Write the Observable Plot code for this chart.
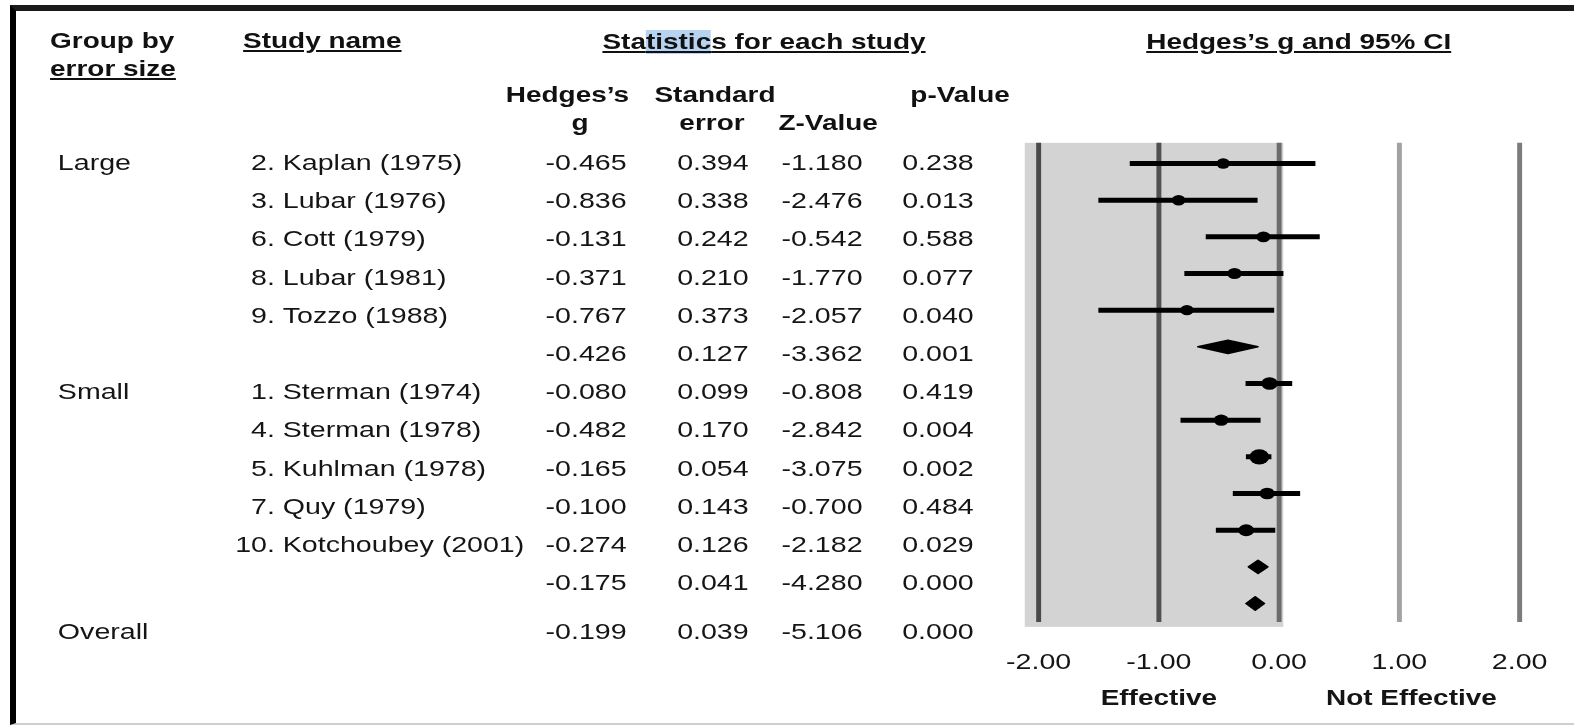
<!DOCTYPE html>
<html>
<head>
<meta charset="utf-8">
<script src="https://cdn.jsdelivr.net/npm/d3@7"></script>
<script src="https://cdn.jsdelivr.net/npm/@observablehq/plot@0.6"></script>
<style>
html,body{margin:0;padding:0;background:#fff;}
body{width:1574px;height:728px;overflow:hidden;position:relative;font-family:"Liberation Sans",Arial,sans-serif;}
#frame{position:absolute;left:10px;top:5px;width:1600px;height:712px;border-left:6px solid #000;border-top:6px solid #1a1a1a;border-bottom:2px solid #cfcfcf;}
#stage{position:absolute;left:0;top:0;height:728px;transform-origin:0 0;filter:blur(0.45px);}
#stage svg{position:absolute;left:0;top:0;display:block;}
#stage svg text{white-space:pre;}
.hd{position:absolute;font-weight:bold;font-size:21.5px;line-height:22px;color:#111;white-space:nowrap;}
.hd.u{text-decoration:underline;text-decoration-thickness:2px;text-underline-offset:2px;}
.hd.c{transform:translateX(-50%);}
.hd .sel{background:#b7d3f2;}
</style>
</head>
<body>
<div id="frame"></div>
<div id="stage"></div>
<script>
// ---------------- data ----------------
const groupLabels = ["Large", "", "", "", "", "", "Small", "", "", "", "", "", "Overall"];
const studyNames = ["2. Kaplan (1975)", "3. Lubar (1976)", "6. Cott (1979)", "8. Lubar (1981)", "9. Tozzo (1988)", "",
  "1. Sterman (1974)", "4. Sterman (1978)", "5. Kuhlman (1978)", "7. Quy (1979)", "10. Kotchoubey (2001)", "", ""];
const rowTypes = ["study", "study", "study", "study", "study", "subtotal",
  "study", "study", "study", "study", "study", "subtotal", "overall"];
const hedgesG = [-0.465, -0.836, -0.131, -0.371, -0.767, -0.426, -0.080, -0.482, -0.165, -0.100, -0.274, -0.175, -0.199];
const stdErr  = [0.394, 0.338, 0.242, 0.210, 0.373, 0.127, 0.099, 0.170, 0.054, 0.143, 0.126, 0.041, 0.039];
const zValue  = [-1.180, -2.476, -0.542, -1.770, -2.057, -3.362, -0.808, -2.842, -3.075, -0.700, -2.182, -4.280, -5.106];
const pValue  = [0.238, 0.013, 0.588, 0.077, 0.040, 0.001, 0.419, 0.004, 0.002, 0.484, 0.029, 0.000, 0.000];
const ciLower = [-1.237, -1.498, -0.605, -0.783, -1.498, -0.675, -0.274, -0.815, -0.271, -0.380, -0.521, -0.255, -0.275];
const ciUpper = [0.307, -0.174, 0.343, 0.041, -0.036, -0.177, 0.114, -0.149, -0.059, 0.180, -0.027, -0.095, -0.123];
const axisTicks = [-2, -1, 0, 1, 2];
const sideLabels = ["Effective", "Not Effective"];

// ---------------- layout ----------------
const SX = 1.3;                    // horizontal stretch of the original picture
const W0 = 1574 / SX;
const FONT = "Liberation Sans, Arial, sans-serif";
const INK = "#151515";
const COL = {group: 44, studyNumEnd: 211, studyName: 217, g: 481.5, se: 575.4, z: 663, p: 748.5};
const sideLabelX = [-1, 1.1];

const rows = hedgesG.map((g, i) => {
  const m = studyNames[i].match(/^(\d+\.)\s(.*)$/);
  return {
    i, slot: i < 12 ? i : 12.27,
    group: groupLabels[i], num: m ? m[1] : "", name: m ? m[2] : "",
    type: rowTypes[i], g, se: stdErr[i], z: zValue[i], p: pValue[i],
    lo: ciLower[i], hi: ciUpper[i], w: 1 / (stdErr[i] * stdErr[i])
  };
});
const studies = rows.filter(d => d.type === "study");
const summaries = rows.filter(d => d.type !== "study");
const DH = 0.18;
const diamonds = summaries.flatMap(d => [
  {i: d.i, x: d.lo, y: d.i}, {i: d.i, x: d.g, y: d.i - DH},
  {i: d.i, x: d.hi, y: d.i}, {i: d.i, x: d.g, y: d.i + DH}, {i: d.i, x: d.lo, y: d.i}
]);

const stage = document.getElementById("stage");
stage.style.width = W0 + "px";
stage.style.transform = `scaleX(${SX})`;
const clean = svg => { svg.querySelectorAll("style").forEach(s => s.remove()); return svg; };

// ---------------- table ----------------
const fmt3 = v => v.toFixed(3);
const tablePlot = Plot.plot({
  width: W0, height: 700, margin: 0,
  style: {background: "transparent", fontFamily: FONT, fontSize: "22px", color: INK},
  x: {type: "identity", axis: null},
  y: {domain: [0, 11], range: [162.5, 582.7], axis: null},
  marks: [
    Plot.text(rows.filter(d => d.group), {x: COL.group, y: "slot", text: "group", textAnchor: "start", fill: INK}),
    Plot.text(rows.filter(d => d.num), {x: COL.studyNumEnd, y: "slot", text: "num", textAnchor: "end", fill: INK}),
    Plot.text(rows.filter(d => d.name), {x: COL.studyName, y: "slot", text: "name", textAnchor: "start", fill: INK}),
    Plot.text(rows, {x: COL.g, y: "slot", text: d => fmt3(d.g), textAnchor: "end", fill: INK}),
    Plot.text(rows, {x: COL.se, y: "slot", text: d => fmt3(d.se), textAnchor: "end", fill: INK}),
    Plot.text(rows, {x: COL.z, y: "slot", text: d => fmt3(d.z), textAnchor: "end", fill: INK}),
    Plot.text(rows, {x: COL.p, y: "slot", text: d => fmt3(d.p), textAnchor: "end", fill: INK})
  ]
});
stage.appendChild(clean(tablePlot));

// ---------------- forest plot ----------------
const lineTone = new Map([[-2, "#4a4a4a"], [-1, "#505050"], [0, "#6c6c6c"], [1, "#a2a2a2"], [2, "#7c7c7c"]]);
const forestPlot = Plot.plot({
  width: W0, height: 716, marginTop: 0, marginLeft: 0, marginRight: 0, marginBottom: 76,
  style: {background: "transparent", fontFamily: FONT, fontSize: "22px", color: INK},
  x: {domain: [-2, 2], range: [1038 / SX, 1519 / SX]},
  y: {domain: [0, 12], range: [163, 603], axis: null},
  r: {type: "sqrt", domain: [0, d3.max(studies, d => d.w)], range: [4.8, 7.6]},
  color: {type: "identity"},
  marks: [
    Plot.rect([{}], {x1: -2.11, x2: 0.04, y1: -0.55, y2: 12.65, fill: "#d3d3d3"}),
    Plot.ruleX(axisTicks, {x: d => d, y1: -0.55, y2: 12.52, stroke: d => lineTone.get(d), strokeWidth: 3.8}),
    Plot.ruleY(studies, {y: "i", x1: "lo", x2: "hi", stroke: "#000", strokeWidth: 5}),
    Plot.dot(studies, {x: "g", y: "i", r: d => d.w, fill: "#000", stroke: "none"}),
    Plot.line(diamonds, {x: "x", y: "y", z: "i", fill: "#000", stroke: "#000", strokeWidth: 1.5}),
    Plot.axisX({anchor: "bottom", ticks: axisTicks, tickFormat: d => d.toFixed(2), tickSize: 0, tickPadding: 13,
      fontSize: 22, label: null, fill: INK}),
    Plot.text(sideLabels, {x: (d, i) => sideLabelX[i], text: d => d, frameAnchor: "bottom", dy: 65,
      fontWeight: "bold", fontSize: 21.5, fill: INK})
  ]
});
stage.appendChild(clean(forestPlot));

// ---------------- headers ----------------
const headers = [
  {t: "Group by", x: 38.5, b: 48},
  {t: "error size", x: 38.5, b: 76, u: true},
  {t: "Study name", x: 187, b: 48, u: true},
  {t: "Statistics for each study", x: 587.7, b: 49, u: true, c: true, sel: [3, 9]},
  {t: "Hedges\u2019s g and 95% CI", x: 999, b: 49, u: true, c: true},
  {t: "Hedges\u2019s", x: 436.5, b: 102, c: true},
  {t: "g", x: 446.2, b: 130, c: true},
  {t: "Standard", x: 550, b: 102, c: true},
  {t: "error", x: 547.7, b: 130, c: true},
  {t: "Z-Value", x: 637, b: 130, c: true},
  {t: "p-Value", x: 738.5, b: 102, c: true}
];
for (const h of headers) {
  const el = document.createElement("div");
  el.className = "hd" + (h.u ? " u" : "") + (h.c ? " c" : "");
  if (h.sel) {
    el.append(h.t.slice(0, h.sel[0]));
    const s = document.createElement("span");
    s.className = "sel";
    s.textContent = h.t.slice(h.sel[0], h.sel[1]);
    el.append(s, h.t.slice(h.sel[1]));
  } else {
    el.textContent = h.t;
  }
  el.style.left = h.x + "px";
  el.style.top = (h.b - 18.4) + "px";
  stage.appendChild(el);
}
</script>
</body>
</html>
